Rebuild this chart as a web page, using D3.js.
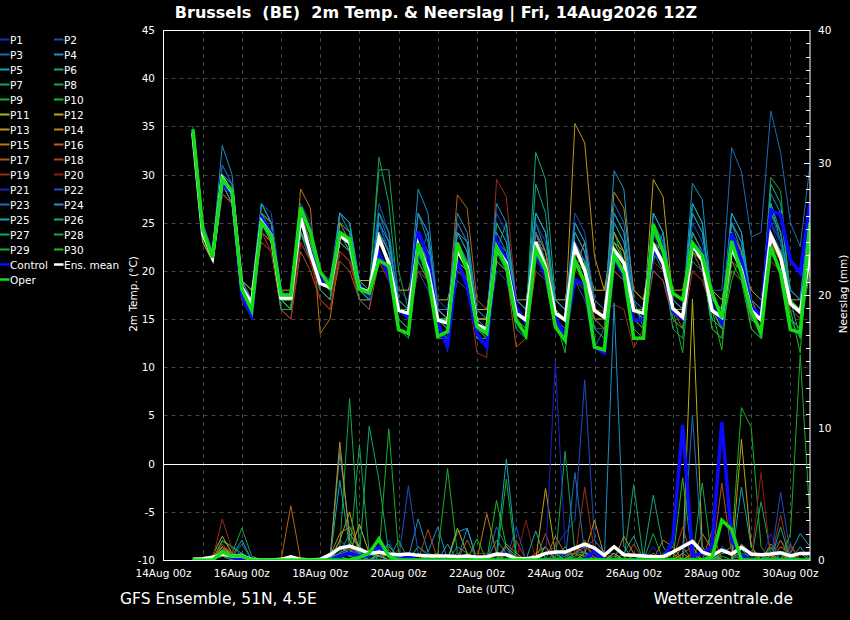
<!DOCTYPE html>
<html><head><meta charset="utf-8">
<script src="https://cdn.jsdelivr.net/npm/d3@7"></script>
<style>
html,body{margin:0;padding:0;background:#000;}
svg{display:block;font-family:"DejaVu Sans",sans-serif;}
</style></head><body>
<svg id="c" width="850" height="620"></svg>
<script>
// ---------- data ----------
const firstTime = Date.UTC(2026, 7, 14, 18); // 14Aug 18z, 6-hourly steps
const stepHours = 6;
const xTickLabels = ["14Aug 00z","16Aug 00z","18Aug 00z","20Aug 00z","22Aug 00z","24Aug 00z","26Aug 00z","28Aug 00z","30Aug 00z"];
const tempTicks = [45,40,35,30,25,20,15,10,5,0,-5,-10];
const precipTicks = [0,10,20,30,40];
const memberNames = ["P1","P2","P3","P4","P5","P6","P7","P8","P9","P10","P11","P12","P13","P14","P15","P16","P17","P18","P19","P20","P21","P22","P23","P24","P25","P26","P27","P28","P29","P30"];
const memberColors = ["#1a2ab8","#1a4cc0","#1a6cb8","#1a92c0","#12a5b5","#12a585","#12a565","#12a848","#14b428","#14c414",
  "#b8b414","#bca414","#c09414","#c48414","#c07414","#b86414","#b45414","#ac4418","#a02c18","#901c18",
  "#1a22c0","#1a50c0","#1a70c0","#1a96c4","#12a8b0","#12a888","#12a865","#15a845","#18b028","#18c018"];

const meanTemp = [34.3,23.9,21.4, 29.6,28.2,18.3,16.6, 25.1,23.7,17.2,17.2, 25.5,21.8,18.7,18.3, 23.7,22.9,18.2,17.8, 23.4,20.8,15.9,15.6, 22.7,20.1,14.9,14.6, 22.2,20.4,14.4,13.9, 22.4,20.8,15.6,14.9, 23.0,20.4,15.6,14.9, 22.5,20.1,15.9,15.2, 22.2,20.8,15.9,15.6, 22.7,20.8,16.1,15.2, 22.7,21.1,15.9,15.2, 22.5,20.1,15.9,14.9, 23.7,21.4,16.6,15.7, 21.8];
const controlTemp = [34.5,24,21.5, 29,28,17.5,15.5, 25.5,24,17.5,17.5, 25.5,22,19,18.8, 24,23,18.5,17.5, 21.9,19.5,15.9,15.2, 24.1,21.5,14.6,12.1, 21.1,18.4,13.5,12.1, 23.2,21.1,16.3,14.6, 21.8,19.5,15.2,13.2, 19.1,18.5,12.1,11.5, 21.5,19.4,14.9,14.9, 22.2,20.8,15.8,15.0, 22.9,21.8,16.3,14.6, 23.9,21.1,16.3,15.3, 26.3,25.8,21.1,19.8, 27.1];
const operTemp = [34.7,24.3,21.4, 29.5,28.3,18.1,15.9, 25.0,23.7,17.5,17.5, 26.6,24,19.9,18.4, 24.0,23.3,18.1,17.7, 21.1,20.5,13.9,13.5, 22.9,19.5,13.2,13.7, 22.9,20.1,14.2,13.5, 22.5,20.5,14.9,13.3, 22.2,20.1,14.2,12.8, 21.1,18.8,12.1,11.8, 21.6,19.8,13.0,13.0, 24.8,22.0,17.7,17.0, 22.9,21.6,17.7,15.1, 23.1,19.8,15.8,13.6, 22.5,19.8,13.9,13.6, 25.0];

const memberTemp = [
/*P1*/ [34,24,21, 29,28,17,15, 24,23,16,15, 24,22,18,17, 23,22,17,16, 24,21,15,14, 22,20,14,13, 21,19,13,12, 22,20,14,13, 23,20,14,13, 21,19,14,13, 22,20,15,14, 24,21,15,14, 23,22,16,14, 21,20,15,14, 25,22,16,15, 24],
/*P2*/ [34,23,21, 30,29,18,17, 26,24,17,16, 24,21,18,17, 24,22,18,17, 25,22,16,15, 20,18,15,14, 19,18,14,13, 20,19,15,14, 22,19,14,13, 19,17,14,14, 21,20,16,16, 20,19,16,15, 22,20,15,14, 20,19,16,15, 22,20,16,15, 20],
/*P3*/ [34,24,22, 31,29,19,17, 26,25,18,17, 26,23,19,19, 25,24,19,18, 24,21,17,16, 24,21,16,15, 23,21,15,15, 23,22,17,16, 24,21,17,16, 23,21,12,14, 24,22,17,16, 25,23,17,16, 26,24,18,18, 32.8,30.3,23.5,24, 36.6,32.3,25,22.5, 31],
/*P4*/ [35,25,22, 33,30,19,18, 27,25,18,17, 26,24,20,19, 26,24,19,18, 25,22,17,16, 28.5,26,16,16, 24,22,15,15, 24,22,17,16, 25,22,17,16, 24,22,17,16, 26,24,16,16, 24,22,16,16, 29.1,27.4,17,16, 25,22,16,15, 27,24,18,17, 25],
/*P5*/ [34,24,21, 30,28,18,17, 26,25,18,17, 26,24,19,18, 25,24,19,18, 25,22,17,16, 26,23,16,15, 24,22,15,15, 25,23,17,16, 26,24,17,16, 25,23,16,15, 26,24,17,16, 21,24,17,16, 26,24,17,16, 25,23,16,13, 27,23,17,16, 26],
/*P6*/ [34,24,21, 29,28,18,16, 24,23,17,16, 24,21,18,17, 23,22,18,17, 22,20,15,14, 22,19,15,14, 21,19,14,14, 25,23,16,15, 32.3,29.5,17,16, 22,20,16,15, 21,20,16,15, 22,21,16,15, 22,20,15,14, 24,22,16,15, 23,21,16,15, 21],
/*P7*/ [34,23,21, 29,27,18,17, 26,24,17,17, 25,22,19,18, 22,21,18,18, 31.8,27,17,16, 22,20,15,14, 21,20,14,14, 22,21,16,15, 23,21,16,15, 22,20,16,15, 23,21,16,15, 22,21,16,15, 21,20,15,14, 23,21,16,15, 22,20,15,14, 22],
/*P8*/ [34,24,21, 28,27,18,16, 25,23,17,17, 24,22,19,18, 25,24,19,18, 30.5,30.5,20,16, 22,21,15,15, 22,20,14,13, 23,21,15,14, 22,20,15,14, 21,19,15,14, 24,21,16,16, 22,20,16,15, 23,21,16,15, 22,20,15,14, 24,22,16,15, 24],
/*P9*/ [34,24,21, 29,28,17,16, 27,25,17,17, 24,22,19,18, 24,23,18,18, 23,21,16,16, 23,21,15,14, 22,20,14,14, 22,20,16,15, 23,20,15,11.5, 22,20,15,15, 21,20,15,15, 22,21,16,11.5, 23,21,16,15, 22,20,15,14, 23,21,16,15, 23],
/*P10*/ [34,24,21, 30,28,18,17, 25,24,18,17, 25,23,19,18, 24,23,18,18, 24,22,16,15, 23,20,14,13, 22,20,13,13, 22,21,15,14, 23,20,15,14, 22,20,16,15, 22,21,16,16, 25,22,16,15, 22,21,16,11.8, 22,20,15,14, 25,23,16,11.5, 25],
/*P11*/ [34,24,21, 28,27,19,18, 24,23,18,18, 24,22,19,19, 23,22,19,19, 22,20,18,18, 22,20,17,17, 21,20,16,16, 22,21,17,17, 22,20,17,17, 22,21,18,18, 22,21,18,17, 23,22,18,18, 23,22,18,17, 22,21,18,17, 23,21,17,17, 21],
/*P12*/ [34,23,21, 28,27,18,17, 25,24,18,17, 24,22,19,19, 24,22,19,18, 23,21,17,16, 23,21,16,15, 22,20,15,15, 23,21,16,15, 24,21,16,15, 22,21,16,15, 23,22,16,15, 29.5,27.7,17,16, 24,22,16,15, 23,21,16,15, 24,22,17,16, 21],
/*P13*/ [34,24,22, 29,28,18,17, 25,24,17,17, 26,23,19,18, 24,23,18,17, 23,21,16,16, 24,21,16,15, 23,21,15,14, 22,21,16,15, 23,21,16,15, 35.3,33.3,21.5,18, 24,22,17,16, 23,21,16,16, 22,21,17,16, 22,20,16,15, 24,21,17,16, 22],
/*P14*/ [34,24,21, 29,27,18,17, 24,23,17,16, 26,24,18,17, 25,23,19,18, 24,22,17,16, 24,22,16,15, 25,23,15,15, 23,21,17,16, 24,22,17,16, 20,23,17,16, 28.2,26.5,18,17, 24,22,17,16, 23,21,17,16, 24,22,17,16, 24,22,17,16, 22],
/*P15*/ [34,24,21, 30,28,18,17, 25,23,17,16, 28.5,26.5,13.5,15, 22,21,18,17, 23,21,16,15, 23,21,15,15, 22,20,15,14, 22,21,16,15, 23,22,16,15, 22,20,16,15, 22,21,16,16, 23,21,16,15, 22,21,16,15, 22,21,17,15, 23,21,16,15, 21],
/*P16*/ [34,24,21, 30,29,18,17, 26,25,18,17, 26,24,19,18, 23,22,18,17, 22,20,16,16, 24,22,16,15, 27.9,26.5,17,16, 23,21,16,15, 23,21,16,15, 21,20,15,15, 23,21,17,16, 22,21,16,15, 23,21,16,15, 21,20,15,15, 22,20,16,15, 22],
/*P17*/ [34,24,21, 28,27,18,17, 23,22,16,15, 22,20,17,16, 21,20,17,16, 21,19,16,15, 20,19,15,14, 20,19,14,13, 21,20,12.1,13, 20,19,14,13, 19,18,15,14, 20,19,15,14, 20,19,15,14, 22,21,16,14, 21,20,15,14, 22,20,16,15, 20],
/*P18*/ [34,24,21, 29,28,17,16, 24,23,17,16, 23,21,18,17, 22,21,17,17, 21,20,16,15, 21,19,15,14, 20,19,14,14, 21,20,16,15, 21,20,16,15, 21,20,16,15, 20,19,16,15, 21,20,16,14, 20,19,16,15, 20,19,15,14, 21,20,16,15, 20],
/*P19*/ [34,24,21, 28,27,17,16, 24,22,16,15, 23,21,17,16, 22,21,17,17, 22,20,16,15, 22,20,15,14, 21,19,11.5,11, 29.5,27.7,17,16, 22,21,16,15, 22,20,16,15.8, 16.5,16,12,14, 22,21,16,15, 22,20,16,15, 21,20,15,15, 23,21,16,15, 21],
/*P20*/ [34,24,21, 28,27,18,17, 24,22,17,16, 23,21,18,17, 22,21,18,17, 21,19,16,15, 20,19,15,14, 21,19,14,14, 22,21,16,15, 20,19,16,15, 20,19,16,15, 21,20,16,15, 21,20,16,15, 20,19,16,14, 21,20,15,15, 21,20,16,15, 20],
/*P21*/ [34,24,21, 30,28,18,17, 25,24,17,17, 25,22,19,18, 24,23,18,18, 25,22,17,16, 23,21,15,11.6, 22,20,14,13, 23,21,15,14, 22,20,15,14, 23,21,16,15, 22,20,16,15, 24,22,16,15, 23,21,16,15, 23,21,16,15, 25,23,18,17, 24],
/*P22*/ [34,24,21, 31,29,19,17, 27,26,18,17, 27,25,19,18, 26,25,19,18, 27,24,18,17, 26,24,17,16, 25,23,16,15, 26,24,17,16, 25,23,17,16, 26,24,17,16, 25,23,17,16, 26,24,17,16, 25,23,17,16, 26,24,17,16, 26,23,18,17, 23],
/*P23*/ [34,24,21, 30,28,18,16, 25,23,16,16, 25,22,18,17, 24,22,18,17, 26,23,17,16, 21,24,16,15, 23,21,15,14, 23,22,16,15, 24,21,16,15, 23,21,16,15, 27,25,17,16, 25,23,17,16, 24,22,16,15, 26,24,17,16, 26,24,18,17, 27],
/*P24*/ [34,24,22, 30,29,19,17, 27,25,18,17, 26,24,19,18, 26,25,19,18, 25,23,17,16, 26,24,16,15, 26,24,16,15, 27,25,17,16, 26,24,17,16, 25,23,16,15, 30.4,28.5,17,14, 26,24,17,16, 27,25,17,16, 25,23,16,15, 28,26,18,17, 26],
/*P25*/ [34,24,21, 29,28,18,16, 25,24,17,16, 26,24,18,17, 26,25,18,17, 26,24,16,15, 24,22,15,14, 24,23,15,14, 22,25,16,15, 26,24,16,15, 24,22,16,15, 25,23,16,15, 26,24,16,15, 27,25,16,15, 26,24,16,15, 29,27,17,16, 23],
/*P26*/ [34,24,21, 30,28,18,17, 25,24,17,17, 25,22,19,18, 24,23,18,18, 24,22,16,15, 23,21,15,15, 22,20,14,14, 23,21,16,15, 29,26,16,15, 22,20,16,15, 22,21,16,15, 24,22,16,15, 24,22,16,15, 23,21,15,14, 26,24,17,13, 22],
/*P27*/ [34,24,21, 29,27,18,16, 25,23,16,16, 24,22,18,17, 23,22,17,17, 22,20,14,13, 21,19,13,13, 21,19,13,13, 21,20,14,13, 22,20,14,13, 21,20,14,13, 22,21,14,13, 22,21,14,13, 23,21,14,13, 22,20,14,13, 24,22,15,13, 22],
/*P28*/ [34,24,21, 29,28,18,17, 25,24,17,17, 25,23,19,18, 24,23,18,18, 23,21,16,16, 23,21,15,15, 22,20,14,14, 22,21,16,15, 23,21,16,15, 22,20,16,15, 22,21,16,15, 23,21,16,15, 23,21,16,14, 22,20,16,15, 29.7,28.3,17,16, 23],
/*P29*/ [34,24,21, 29,28,18,17, 26,24,17,17, 25,22,19,19, 24,23,18,18, 23,21,15,14, 22,21,14,13, 22,20,14,13, 23,21,15,14, 23,21,14,13, 22,20,14,13, 22,20,15,14, 23,21,15,14, 23,21,14,13, 21,19,14,13, 24,21,15,14, 20],
/*P30*/ [34,24,21, 30,28,18,17, 25,24,17,16, 25,22,19,18, 24,23,19,18, 23,21,16,16, 22,20,15,15, 22,21,14,14, 22,21,16,15, 23,21,16,15, 22,21,16,15, 23,21,16,16, 23,21,16,15, 22,21,16,14, 19,22,16,15, 24,22,17,16, 22]
];

const meanPrecip = [.05,.1,.2, .45,.3,.3,.05, 0,0,.05,.25, .05,0,.05,.4, .9,1.05,.8,.5, .6,.45,.4,.45, .35,.3,.3,.3, .25,.3,.2,.25, .45,.4,.1,.1, .2,.5,.6,.6, .9,1.2,.9,.35, 1.0,.4,.35,.3, .25,.25,.6,1.0, 1.4,.6,.35,.75, .45,.95,.45,.4, .45,.55,.3,.5, .5];
const controlPrecip = [0,0,0, .5,.2,0,0, 0,0,0,0, 0,0,0,0, .3,.5,.3,.3, 1,.5,0,.3, 0,0,0,0, 0,0,0,0, 0,0,0,0, 0,0,0,0, 0,0,.7,0, 0,0,0,0, 0,0,1.5,10.2, .3,.5,1,10.4, 1.5,.3,0,0, 0,0,0,0, 0];
const operPrecip = [0,0,0, .6,.3,.3,0, 0,0,0,0, 0,0,0,0, 0,0,.2,.5, 1.6,.3,0,0, 0,0,0,0, 0,0,0,0, 0,0,0,0, 0,0,0,0, 0,0,0,0, 0,0,0,0, 0,0,0,0, 0,0,.2,3, 2.3,0,0,0, 0,0,0,0, 0];

const memberPrecip = [
/*P1*/ [0,0,0, .3,0,0,0, 0,0,0,0, 0,0,0,.5, .8,1.2,.5,.3, 1,.5,0,0, 0,.3,0,0, 0,0,0,0, .5,.8,0,0, 0,0,.3,.5, 1,.6,.3,0, 0,0,0,0, 0,0,.5,1.2, 1.5,.5,0,.8, .5,1,.6,.3, 0,.4,0,0, 0],
/*P2*/ [0,0,0, .5,.2,0,0, 0,0,0,0, 0,0,0,.3, 1,.5,.3,.8, 1.5,.5,.2,0, 0,0,0,0, 0,0,0,.5, .3,0,0,0, 0,.5,1,2, 3,13.6,1.5,.5, .5,0,0,0, .3,0,0,0, 0,0,0,1, .5,.3,0,0, .8,1.5,.5,0, 0],
/*P3*/ [0,0,.2, .8,.5,.3,0, 0,0,0,0, 0,0,0,0, 1.5,.8,1,.5, .5,.3,0,0, 1,.5,.3,0, 0,0,0,0, 2.5,1,0,0, 0,0,0,0, .5,1,1.5,.6, 0,0,0,.3, 0,.5,1,0, 0,0,0,0, 0,.5,.3,0, 0,0,0,0, 0],
/*P4*/ [0,0,0, 1,.5,.3,0, 0,0,0,0, 0,0,0,0, 8.1,2,1,.5, .3,.5,.3,.2, 3.1,.6,2.5,0, 1,.5,0,0, 1.5,.5,.3,0, 0,0,0,.3, .5,1,.5,0, 19.4,1,0,0, 0,0,0,0, 0,0,0,.5, .5,0,0,0, 0,0,0,1, 0],
/*P5*/ [0,0,0, 1,.3,1.5,0, 0,0,0,.3, 0,0,0,.2, .5,1,.6,.3, .5,.3,.2,0, 0,0,0,0, 2.1,2.4,0,0, .5,7.6,.5,0, 0,0,0,0, .5,.6,.2,0, .3,0,0,0, 0,0,0,.5, 1,0,0,0, 0,5.5,1,0, 0,0,.5,2, 1],
/*P6*/ [0,0,0, 1.4,1,.5,0, 0,0,0,0, 0,0,0,0, .6,.5,.3,.5, .8,1,.3,0, 0,0,0,0, 0,.5,0,0, 0,1,0,0, 0,0,0,.5, 0,.3,0,0, 0,0,0,.3, 4.9,1,0,0, .5,0,0,0, 0,0,0,0, .5,0,0,0, 0],
/*P7*/ [0,0,0, 1.5,1,.3,0, 0,0,0,0, 0,0,0,0, .5,2,.8,.5, 1,.5,0,0, 0,.3,0,0, 0,0,0,0, .3,0,0,0, 0,0,0,0, .5,.3,0,0, 0,0,0,0, 0,.3,0,0, 0,0,0,0, 0,0,0,4.4, .5,0,0,0, 0],
/*P8*/ [0,0,0, .8,.5,2.4,.3, 0,0,0,0, 0,0,0,.5, 1,12.2,1,.3, .5,.3,0,0, 0,0,0,0, 0,0,0,0, 0,.5,0,0, .3,0,0,8.2, .5,0,0,0, 0,0,0,0, .5,0,0,0, 0,0,0,.3, 0,0,0,0, 0,0,.3,0, 0],
/*P9*/ [0,0,0, .3,0,0,0, 0,0,0,0, 0,0,0,0, .3,.5,.3,0, .5,.3,0,0, 1,.3,.5,6.9, .5,0,0,0, 0,0,0,0, 0,0,0,0, 0,0,0,0, .5,0,0,0, 0,0,0,0, 0,0,0,.5, 1,11.5,10,1, 0,0,0,0, 0],
/*P10*/ [0,0,0, .5,.3,0,0, 0,0,0,0, 0,0,0,0, .5,.8,.5,0, .3,0,0,0, 0,0,0,0, 0,0,0,0, 4.5,1,.3,0, 0,0,0,0, .3,.5,0,0, 0,0,0,0, 0,0,0,0, 0,.5,0,0, 0,0,0,0, 0,0,0,0, 0],
/*P11*/ [0,0,.3, 1.8,.5,0,0, 0,0,0,0, 0,0,0,0, 1,.5,2.7,.5, .3,0,0,0, 0,0,0,0, 2.4,.5,0,0, 0,0,0,0, 0,1,0,0, 0,0,0,0, .5,0,0,0, 0,0,.5,0, 19.7,1,0,0, 0,0,0,0, 0,0,0,0, 0],
/*P12*/ [0,0,0, 1,.3,0,0, 0,0,0,0, 0,0,0,0, 1.5,3.6,.5,0, .5,.3,0,0, 0,0,0,0, 0,0,0,0, 0,0,0,0, 0,5.4,.5,0, 0,0,0,0, 0,0,0,0, 0,0,0,0, 0,0,0,0, 0,9.1,1,0, 0,0,0,0, 0],
/*P13*/ [0,0,0, .5,.3,0,0, 0,0,0,0, 0,0,0,0, 8.9,1.5,.5,0, .5,0,0,0, 0,0,0,0, 0,0,0,.3, 0,0,0,0, .5,1,0,0, 0,.5,3,.3, 0,.5,0,0, 0,0,0,0, .5,0,.3,0, 0,1.2,.5,0, .3,0,0,.5, 0],
/*P14*/ [0,0,0, 1,.5,0,0, 0,0,0,0, 0,0,0,.3, 2,2.5,1,0, .3,0,0,0, 0,.5,0,0, .5,0,0,0, 0,1.2,.5,0, 0,0,0,0, 1,.5,0,0, 0,1.8,.5,0, 0,0,0,.5, 0,2,.8,0, 0,0,0,0, 1.2,.5,0,0, 0],
/*P15*/ [0,0,0, .5,.3,0,0, 0,0,0,0, 0,0,0,0, .5,.8,0,0, 0,0,0,0, 0,0,0,0, 0,0,0,3.5, .5,0,0,0, 0,0,0,0, 0,0,0,0, 0,0,0,0, 0,1.5,1,0, 0,0,0,0, 0,0,0,0, 0,1,.5,0, 0],
/*P16*/ [0,0,0, .8,.3,0,0, 0,0,0,4.1, 0,0,0,0, .5,1,.3,0, 0,.8,0,0, 0,0,.5,0, 0,0,0,0, 0,0,0,0, 0,0,1.8,.5, .5,1.5,0,0, 0,0,0,0, .5,0,0,1, 0,0,2.2,0, 0,0,0,0, 0,1.5,0,0, 0],
/*P17*/ [0,0,0, 1,.5,0,0, 0,0,0,0, 0,0,0,0, .5,.8,.3,0, .3,0,0,0, 0,0,0,0, 0,1.5,0,0, 0,0,0,0, 0,2,0,0, 0,0,0,0, 0,0,1.2,0, 0,0,0,0, 0,0,0,5.8, .5,0,0,0, 0,0,1,0, 0],
/*P18*/ [0,0,0, 1.2,.5,0,0, 0,0,0,0, 0,0,0,0, .5,.5,0,0, 0,0,0,0, 0,2.3,0,0, 0,0,0,0, 0,0,1.5,0, 0,0,0,0, 1,.5,0,0, 0,0,0,0, 0,0,0,2.5, 0,0,0,0, 0,0,0,0, 0,0,1.2,0, 0],
/*P19*/ [0,0,0, 3.1,.8,0,0, 0,0,0,0, 0,0,0,0, .5,.5,0,0, 0,0,0,0, 0,0,0,0, 0,0,.5,.5, 0,0,0,0, 0,0,0,0, 0,5.5,.5,0, 0,0,0,0, 0,0,0,0, 0,0,0,0, 0,0,0,0, 0,3.4,0,0, 0],
/*P20*/ [0,0,0, .5,.3,0,0, 0,0,0,0, 0,0,0,0, .3,0,0,0, 0,0,.8,0, 0,0,0,0, 0,0,0,0, 0,0,0,3, 0,0,0,0, 0,1.2,0,0, 0,0,0,0, 0,0,0,0, 0,0,0,0, 0,0,0,6.6, 0,0,0,0, 0],
/*P21*/ [0,0,0, .5,.2,0,0, 0,0,0,0, 0,0,0,0, .5,.8,.5,0, 0,1.5,0,0, 0,0,0,0, 0,0,0,0, 0,0,0,0, 0,0,15,1, 0,0,0,0, 0,0,0,0, 1,0,0,0, 0,0,0,0, 0,0,0,0, 2,0,0,0, 0],
/*P22*/ [0,0,0, .3,.2,0,0, 0,0,0,0, 0,0,0,0, .5,.3,.5,.5, 0,0,0,5.6, .5,0,0,0, 0,0,0,0, 0,0,2.5,0, 0,0,0,0, 0,0,0,0, 0,0,0,0, 0,0,0,0, 0,0,0,0, 0,0,0,0, 0,5.1,.5,0, 0],
/*P23*/ [0,0,0, .5,.3,1.2,0, 0,0,0,0, 0,0,0,0, .5,.3,0,0, 0,0,0,0, 0,0,0,0, 0,0,0,0, 0,0,0,0, 0,0,0,0, 6.6,.5,0,0, 0,0,0,0, 0,0,0,0, 10.9,.5,0,0, 0,0,0,0, 0,0,0,0, 0],
/*P24*/ [0,0,0, .5,.3,.5,0, 0,0,0,0, 0,0,0,0, 1,.5,.3,0, 0,0,0,0, .5,0,0,0, 0,2.4,0,0, 0,0,0,0, 0,0,.5,0, 0,0,0,0, 0,0,0,.5, 0,0,0,0, 0,0,.5,0, 0,0,0,0, 0,0,0,0, 0],
/*P25*/ [0,0,0, .5,.3,0,0, 0,0,0,0, 0,0,0,0, 6,1,.5,0, .3,0,0,0, 0,0,0,1.2, 0,0,0,0, 0,0,0,0, 2.2,0,0,0, 0,0,0,0, 0,0,0,0, 0,0,0,0, 0,0,0,0, 0,.8,0,0, 0,0,0,0, 0],
/*P26*/ [0,0,0, .5,.3,.5,0, 0,0,0,0, 0,0,0,0, .5,.3,0,0, .5,1.2,0,0, 0,0,0,0, 0,0,0,0, 0,0,0,0, 0,0,0,0, 0,0,0,0, 0,.5,1.8,0, 0,0,0,0, 0,0,0,0, 0,0,0,0, 0,2.5,0,0, 0],
/*P27*/ [0,0,0, .5,.3,0,0, 0,0,0,0, 0,0,0,0, .5,.5,.3,10.1, 6,.5,0,0, 0,0,0,0, 0,0,0,0, 0,0,0,0, 0,0,0,0, 0,0,0,0, 0,0,5.7,0, 0,0,0,0, 0,0,0,0, 0,0,0,0, 0,0,0,0, 0],
/*P28*/ [0,0,0, .3,0,0,0, 0,0,0,0, 0,0,0,0, .5,.3,8.7,.5, 0,0,1.5,0, 0,0,0,0, 0,0,0,0, 0,0,0,0, 0,0,0,1, 0,0,0,0, 0,0,0,0, 2,0,0,0, 0,5.8,0,0, 0,0,0,0, 0,0,0,0, 0],
/*P29*/ [0,0,0, .3,0,0,0, 0,0,0,0, 0,0,0,0, .3,.5,0,0, .5,9.9,.5,0, 0,0,0,0, 0,0,0,0, 0,6.1,0,0, 0,0,0,0, 0,0,0,0, 0,0,0,0, 0,0,0,0, 0,0,0,0, 0,0,0,0, 0,0,2,15.5, 3],
/*P30*/ [0,0,0, .5,.3,0,0, 0,0,0,0, 0,0,0,0, .3,0,0,0, 0,0,0,0, 0,0,0,0, 0,0,1.6,0, 0,0,0,0, 0,0,0,0, 0,0,.8,0, 0,0,0,0, 0,0,0,6.2, 0,0,0,0, 0,0,0,0, 1,0,0,0, 0]
];

// ---------- drawing ----------
const W = 850, H = 620;
const L = 163.5, R = 810, T = 30, B = 560;
const svg = d3.select("#c");
svg.append("rect").attr("width", W).attr("height", H).attr("fill", "#000");

const x = d3.scaleUtc().domain([Date.UTC(2026,7,14,0), Date.UTC(2026,7,30,12)]).range([L, R]);
const yT = d3.scaleLinear().domain([-10, 45]).range([B, T]);
const yP = d3.scaleLinear().domain([0, 40]).range([B, T]);
const timeAt = i => new Date(firstTime + i * stepHours * 3600e3);

// grid
const g = svg.append("g");
const days = d3.utcDay.range(Date.UTC(2026,7,15), Date.UTC(2026,7,30,1));
g.selectAll("line.vg").data(days).join("line")
  .attr("x1", d => Math.round(x(d)) + 0.5).attr("x2", d => Math.round(x(d)) + 0.5)
  .attr("y1", T).attr("y2", B)
  .attr("stroke", "#444").attr("stroke-dasharray", "4,4").attr("stroke-width", 1);
g.selectAll("line.hg").data(tempTicks.filter(v => v !== 0 && v !== 45 && v !== -10)).join("line")
  .attr("x1", L).attr("x2", R)
  .attr("y1", d => Math.round(yT(d)) + 0.5).attr("y2", d => Math.round(yT(d)) + 0.5)
  .attr("stroke", "#444").attr("stroke-dasharray", "4,4").attr("stroke-width", 1);
g.append("line").attr("x1", L).attr("x2", R).attr("y1", Math.round(yT(0)) + 0.5).attr("y2", Math.round(yT(0)) + 0.5)
  .attr("stroke", "#fff").attr("stroke-width", 1.2);

// clip
svg.append("clipPath").attr("id", "clip").append("rect").attr("x", L).attr("y", T).attr("width", R - L).attr("height", B - T);
const plot = svg.append("g").attr("clip-path", "url(#clip)");

const lineT = d3.line().x((d, i) => x(timeAt(i))).y(d => yT(d));
const lineP = d3.line().x((d, i) => x(timeAt(i))).y(d => yP(d));

memberTemp.forEach((s, k) => {
  plot.append("path").attr("d", lineT(s)).attr("fill", "none").attr("stroke", memberColors[k]).attr("stroke-width", 1);
});
memberPrecip.forEach((s, k) => {
  plot.append("path").attr("d", lineP(s)).attr("fill", "none").attr("stroke", memberColors[k]).attr("stroke-width", 1);
});
const thick = [
  {t: controlTemp, p: controlPrecip, c: "#0a0aff"},
  {t: meanTemp, p: meanPrecip, c: "#ffffff"},
  {t: operTemp, p: operPrecip, c: "#12dd12"}
];
thick.forEach(o => {
  plot.append("path").attr("d", lineT(o.t)).attr("fill", "none").attr("stroke", o.c).attr("stroke-width", 3.5);
  plot.append("path").attr("d", lineP(o.p)).attr("fill", "none").attr("stroke", o.c).attr("stroke-width", 3.5);
});

// frame
svg.append("rect").attr("x", L).attr("y", T + 0.5).attr("width", R - L).attr("height", B - T)
  .attr("fill", "none").attr("stroke", "#fff").attr("stroke-width", 1);

// right axis ticks
const pt = d3.range(0, 41);
svg.selectAll("line.rt").data(pt).join("line")
  .attr("x1", d => d % 10 === 0 ? R - 6 : R - 4).attr("x2", R)
  .attr("y1", d => Math.round(yP(d)) + 0.5).attr("y2", d => Math.round(yP(d)) + 0.5)
  .attr("stroke", "#fff").attr("stroke-width", 1);

// tick labels
const fs = 10.5;
svg.selectAll("text.lt").data(tempTicks).join("text")
  .attr("x", 155).attr("y", d => yT(d) + 4).attr("text-anchor", "end")
  .attr("fill", "#fff").attr("font-size", fs).text(d => d);
svg.selectAll("text.rt").data(precipTicks).join("text")
  .attr("x", 818).attr("y", d => yP(d) + 4).attr("text-anchor", "start")
  .attr("fill", "#fff").attr("font-size", fs).text(d => d);
svg.selectAll("text.xt").data(xTickLabels).join("text")
  .attr("x", (d, i) => x(new Date(Date.UTC(2026,7,14 + 2 * i))))
  .attr("y", 577).attr("text-anchor", "middle")
  .attr("fill", "#fff").attr("font-size", fs).text(d => d);

// axis titles
svg.append("text").attr("x", 486).attr("y", 593).attr("text-anchor", "middle").attr("fill", "#fff").attr("font-size", fs).text("Date (UTC)");
svg.append("text").attr("transform", "translate(137,294) rotate(-90)").attr("text-anchor", "middle").attr("fill", "#fff").attr("font-size", fs).text("2m Temp. (°C)");
svg.append("text").attr("transform", "translate(847,294) rotate(-90)").attr("text-anchor", "middle").attr("fill", "#fff").attr("font-size", fs).text("Neerslag (mm)");

// title
svg.append("text").attr("x", 436).attr("y", 18).attr("text-anchor", "middle").attr("fill", "#fff")
  .attr("font-size", 16).attr("font-weight", "bold").style("white-space", "pre")
  .text("Brussels  (BE)  2m Temp. & Neerslag | Fri, 14Aug2026 12Z");

// footer
svg.append("text").attr("x", 120).attr("y", 604).attr("fill", "#fff").attr("font-size", 15.5).text("GFS Ensemble, 51N, 4.5E");
svg.append("text").attr("x", 793).attr("y", 604).attr("text-anchor", "end").attr("fill", "#fff").attr("font-size", 15.5).text("Wetterzentrale.de");

// legend
const leg = svg.append("g").attr("font-size", fs).attr("fill", "#fff");
memberNames.forEach((n, k) => {
  const col = k % 2, row = Math.floor(k / 2);
  const lx = col === 0 ? 0 : 54, cy = 39.5 + row * 15;
  leg.append("line").attr("x1", lx).attr("x2", lx + 9.5).attr("y1", cy).attr("y2", cy).attr("stroke", memberColors[k]).attr("stroke-width", 2);
  leg.append("text").attr("x", lx + 10).attr("y", cy + 4).text(n);
});
[["Control", "#0a0aff", 0, 15], ["Ens. mean", "#ffffff", 54, 15], ["Oper", "#12dd12", 0, 16]].forEach(([n, c, lx, row]) => {
  const cy = 39.5 + row * 15;
  leg.append("line").attr("x1", lx).attr("x2", lx + 9.5).attr("y1", cy).attr("y2", cy).attr("stroke", c).attr("stroke-width", 2.5);
  leg.append("text").attr("x", lx + 10).attr("y", cy + 4).text(n);
});
</script>
</body></html>
